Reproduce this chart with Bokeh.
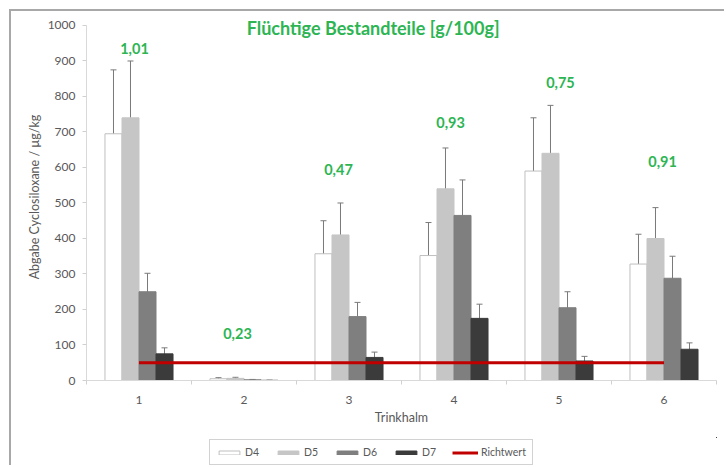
from bokeh.plotting import figure
from bokeh.layouts import column
from bokeh.models import (ColumnDataSource, Whisker, TeeHead, FixedTicker, Legend,
                          LegendItem, Range1d, Label)
from bokeh.core.properties import value
from bokeh.embed import file_html
from bokeh.resources import INLINE

# ---------------- data ----------------
categories = [1, 2, 3, 4, 5, 6]
series = ["D4", "D5", "D6", "D7"]
d4 = [695, 5, 357, 352, 590, 328]
d5 = [740, 6, 410, 540, 640, 400]
d6 = [250, 2, 180, 465, 205, 288]
d7 = [75, 0.5, 65, 175, 55, 88]
d4_lo = [520, 3, 265, 262, 440, 245]
d4_hi = [875, 8, 450, 445, 740, 412]
d5_lo = [580, 3, 320, 425, 500, 315]
d5_hi = [900, 9, 500, 655, 775, 487]
d6_lo = [195, 1, 140, 365, 160, 228]
d6_hi = [302, 3, 220, 565, 250, 350]
d7_lo = [60, 0, 50, 137, 42, 70]
d7_hi = [92, 1, 80, 215, 68, 106]
richtwert = [50, 50, 50, 50, 50, 50]
volatile_labels = ["1,01", "0,23", "0,47", "0,93", "0,75", "0,91"]
volatile_label_x = [0.957, 1.938, 2.9, 3.967, 5.014, 5.986]
volatile_label_y = [935, 132, 594, 727, 839, 617]
title_text = "Flüchtige Bestandteile [g/100g]"

# ---------------- styling ----------------
FONT = "Lato"
GREEN = "#2DB553"
GRAY_TXT = "#595959"
fills = ["#FFFFFF", "#C6C6C6", "#7F7F7F", "#3B3B3B"]
lines = ["#BFBFBF", "#C6C6C6", "#7F7F7F", "#3B3B3B"]
offsets = [-0.243, -0.081, 0.081, 0.243]
bar_w = 0.162

p = figure(width=715, height=426, output_backend="svg", toolbar_location=None,
           x_range=Range1d(0.5, 6.5), y_range=Range1d(0, 1033.8),
           min_border_left=75, min_border_right=10, min_border_top=2,
           min_border_bottom=57)
p.outline_line_color = None
p.xgrid.grid_line_color = None
p.ygrid.grid_line_color = None

vals = [d4, d5, d6, d7]
los = [d4_lo, d5_lo, d6_lo, d7_lo]
his = [d4_hi, d5_hi, d6_hi, d7_hi]
for i, name in enumerate(series):
    src = ColumnDataSource(dict(
        x=[c + offsets[i] for c in categories],
        top=vals[i], lo=los[i], hi=his[i]))
    p.vbar(x="x", top="top", width=bar_w, bottom=0, source=src,
           fill_color=fills[i], line_color=lines[i], line_width=1)
    w = Whisker(base="x", lower="lo", upper="hi", source=src,
                line_color="#7A7A7A", line_width=1,
                upper_head=TeeHead(size=6, line_color="#7A7A7A", line_width=1),
                lower_head=TeeHead(size=6, line_color="#7A7A7A", line_width=1))
    p.add_layout(w)

p.line(x=categories, y=richtwert, line_color="#C00000", line_width=3)

lsrc = ColumnDataSource(dict(x=volatile_label_x, y=volatile_label_y,
                             t=volatile_labels))
p.text(x="x", y="y", text="t", source=lsrc, text_font=value(FONT),
       text_font_style="bold", text_font_size="14.5px", text_color=GREEN,
       text_align="center", text_baseline="middle")

p.add_layout(Label(x=3.23, y=993, text=title_text, text_font=FONT,
                   text_font_style="bold", text_font_size="18px",
                   text_color=GREEN, text_align="center",
                   text_baseline="middle"))

# axes
p.xaxis.ticker = FixedTicker(ticks=categories,
                             minor_ticks=[0.5, 1.5, 2.5, 3.5, 4.5, 5.5, 6.5])
p.xaxis.major_tick_line_color = None
p.xaxis.minor_tick_line_color = "#D0D0D0"
p.xaxis.minor_tick_out = 4
p.xaxis.minor_tick_in = 0
p.xaxis.axis_line_color = "#D9D9D9"
p.xaxis.major_label_standoff = 9
p.xaxis.axis_label = "Trinkhalm"
p.xaxis.axis_label_standoff = 3

p.yaxis.ticker = FixedTicker(ticks=list(range(0, 1001, 100)))
p.yaxis.bounds = (0, 1000)
p.yaxis.axis_line_color = "#D9D9D9"
p.yaxis.major_tick_line_color = "#D0D0D0"
p.yaxis.major_tick_out = 4
p.yaxis.major_tick_in = 0
p.yaxis.minor_tick_line_color = None
p.yaxis.major_label_standoff = 7
p.yaxis.axis_label = "Abgabe Cyclosiloxane / µg/kg"
p.yaxis.axis_label_standoff = 3

for ax in [p.xaxis[0], p.yaxis[0]]:
    ax.major_label_text_font = FONT
    ax.major_label_text_font_size = "12px"
    ax.major_label_text_color = GRAY_TXT
    ax.axis_label_text_font = FONT
    ax.axis_label_text_font_size = "12.5px"
    ax.axis_label_text_font_style = "normal"
    ax.axis_label_text_color = GRAY_TXT

# legend strip (separate small figure below the chart; its glyphs lie off-view)
p2 = figure(width=715, height=30, output_backend="svg", toolbar_location=None,
            x_range=Range1d(-10, -9), y_range=Range1d(-10, -9),
            x_axis_type=None, y_axis_type=None,
            min_border_left=0, min_border_right=0, min_border_top=0,
            min_border_bottom=0)
p2.outline_line_color = None
p2.xgrid.grid_line_color = None
p2.ygrid.grid_line_color = None
items = []
for i, name in enumerate(series):
    r = p2.vbar(x=categories, top=vals[i], width=bar_w, fill_color=fills[i],
                line_color=lines[i], line_width=1)
    items.append(LegendItem(label=name, renderers=[r]))
rl = p2.line(x=categories, y=richtwert, line_color="#C00000", line_width=3)
items.append(LegendItem(label="Richtwert", renderers=[rl]))

legend = Legend(items=items, orientation="horizontal", location=(123, 2),
                glyph_width=26, glyph_height=5, label_height=10,
                label_standoff=3, spacing=10, padding=6, margin=0,
                border_line_color="#A6A6A6", border_line_width=1,
                label_text_font=FONT, label_text_font_size="10.5px",
                label_text_color=GRAY_TXT)
p2.add_layout(legend, "center")

layout = column(p, p2, spacing=0, margin=(11, 0, 0, 11),
                styles={"box-shadow": "-2px -2px 0px 0px #A8A8A8"})

open("out.html", "w").write(file_html(layout, INLINE))
